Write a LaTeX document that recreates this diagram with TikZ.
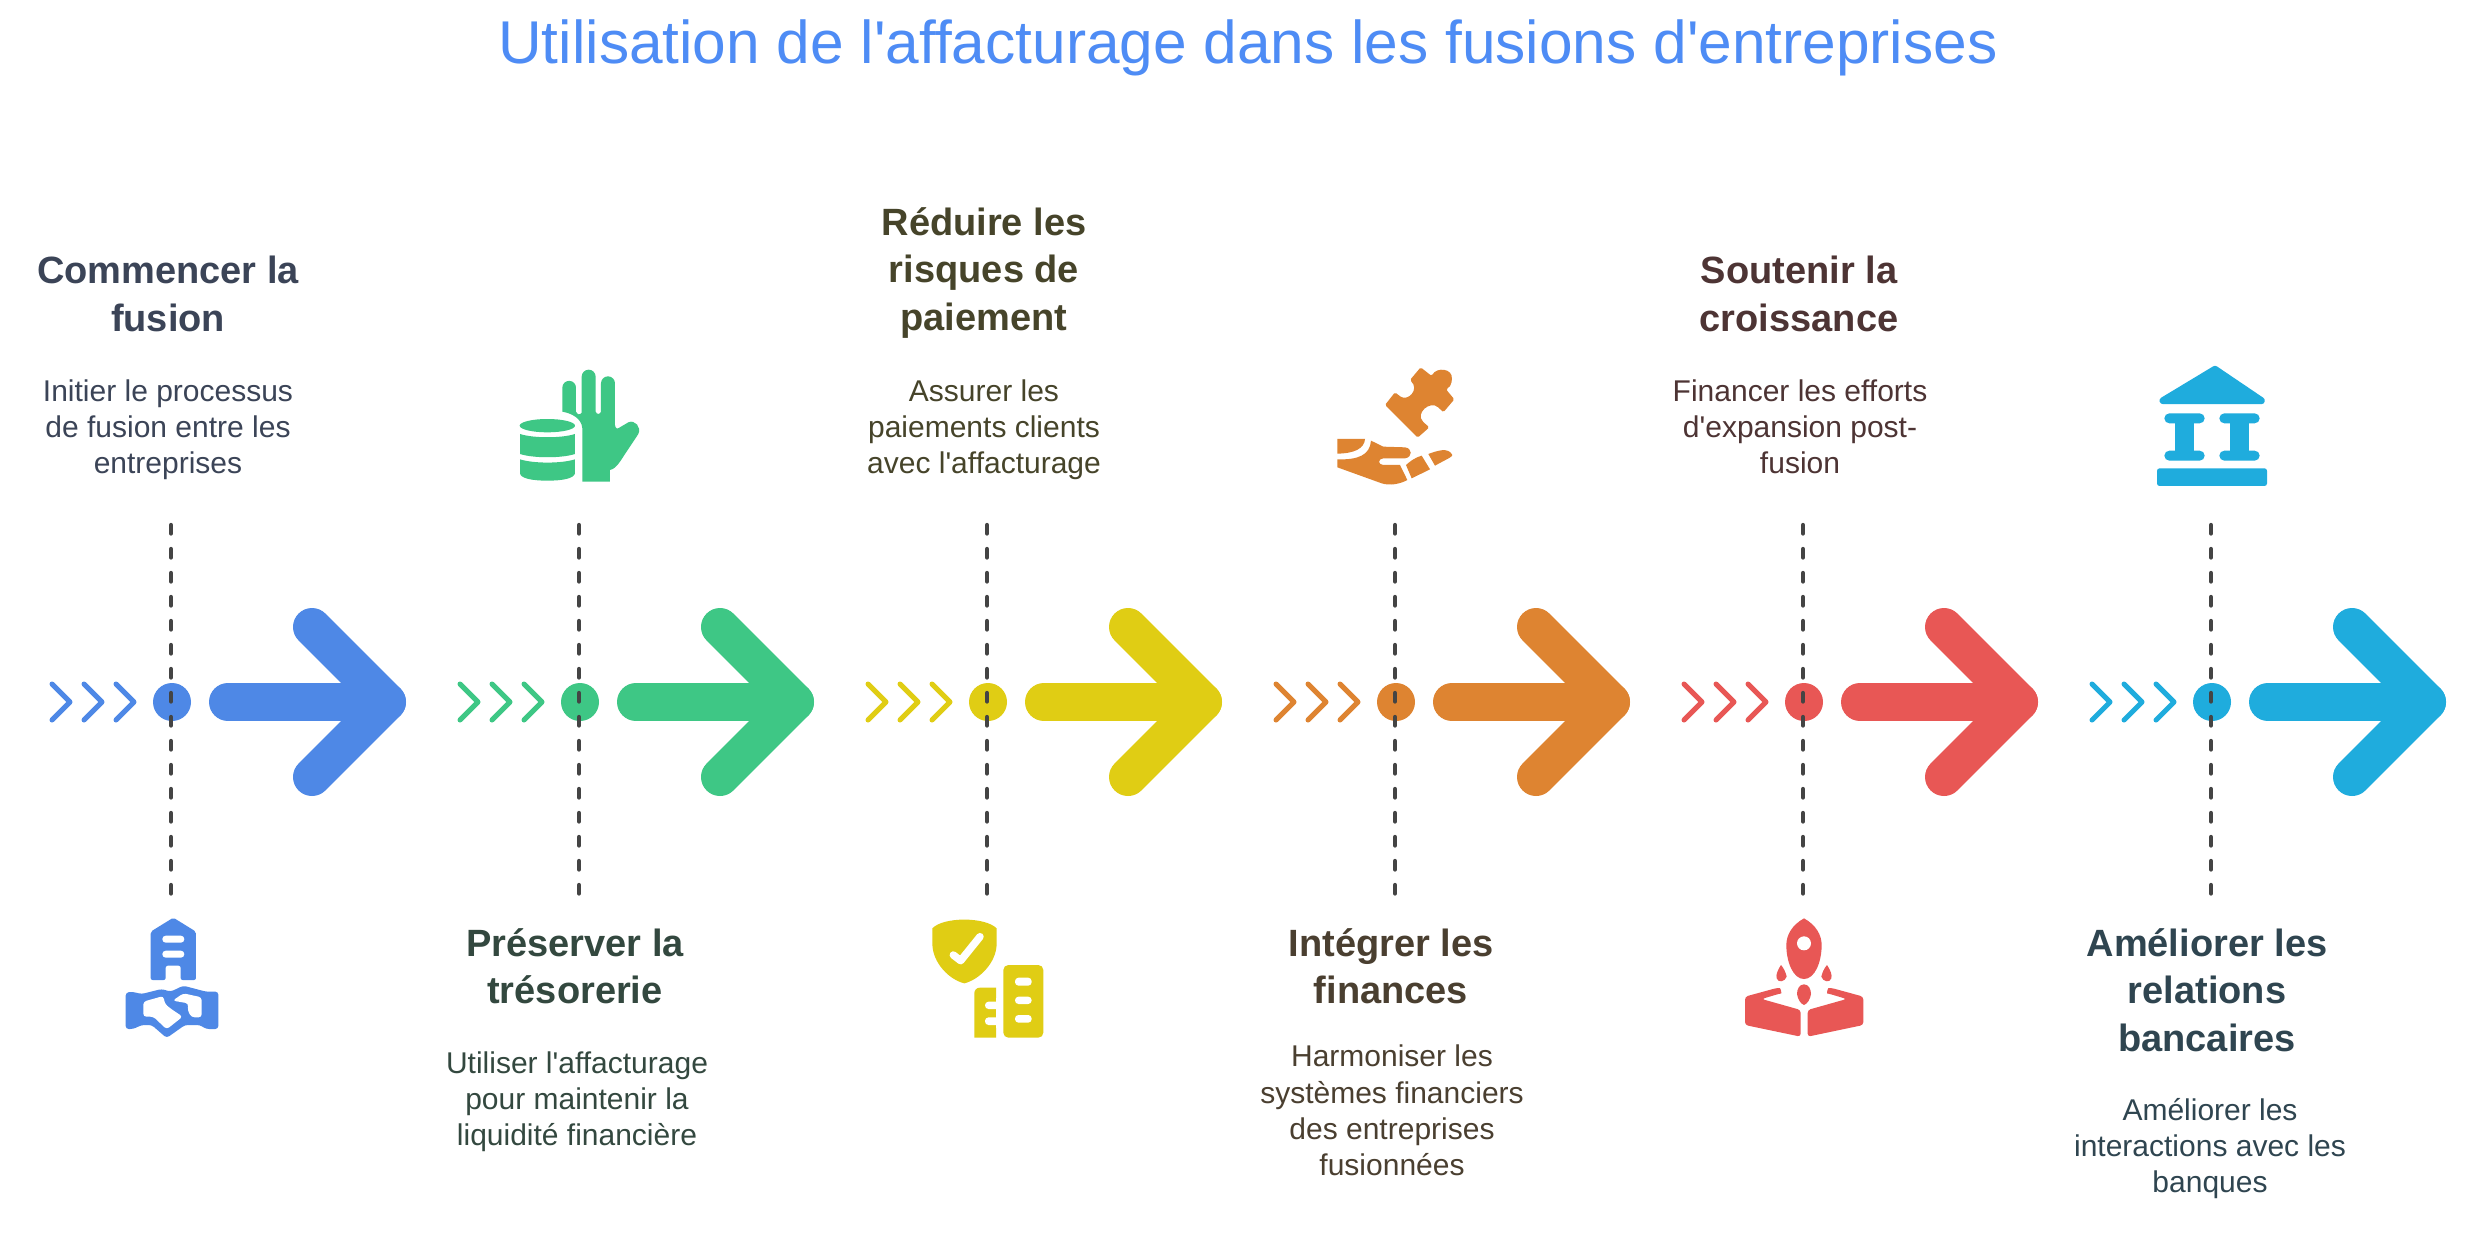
\documentclass[tikz,border=0pt]{standalone}
\usepackage{fontspec}
\newfontfamily\rsans{Liberation Sans}
\setmainfont{Liberation Sans}
\definecolor{cblue}{HTML}{4E88E6}
\definecolor{cgreen}{HTML}{3EC785}
\definecolor{cyellow}{HTML}{E0CD14}
\definecolor{corange}{HTML}{DE8431}
\definecolor{cred}{HTML}{E85755}
\definecolor{ccyan}{HTML}{1FACDD}
\definecolor{ctitle}{HTML}{4E8CF5}
\definecolor{cguide}{HTML}{444444}
\definecolor{tblue}{HTML}{3B4457}
\definecolor{tgreen}{HTML}{33483F}
\definecolor{tyellow}{HTML}{46442A}
\definecolor{torange}{HTML}{4A3F30}
\definecolor{tred}{HTML}{4D3434}
\definecolor{tcyan}{HTML}{2F4550}
\tikzset{
  headtxt/.style={align=center,inner sep=0pt,font=\rsans\fontsize{38}{47.5}\selectfont\bfseries,execute at begin node=\strut,execute at end node=\strut},
  bodytxt/.style={align=center,inner sep=0pt,font=\rsans\fontsize{30}{36.3}\selectfont,execute at begin node=\strut,execute at end node=\strut},
  titletxt/.style={inner sep=0pt,text=ctitle,font=\rsans\fontsize{60.4}{64}\selectfont},
  chevron/.style={line width=5pt,line cap=round,line join=round},
  bigarrow/.style={line width=38pt,line cap=round,line join=round},
  guide/.style={line width=4.3pt,color=cguide,line cap=round,dash pattern=on 8.5pt off 15.5pt},
  zoomed/.style={shift={#1},x=0.3333pt,y=-0.3333pt},
  hole/.style={fill=white,rounded corners=3pt},
}
\begin{document}
\begin{tikzpicture}[x=1pt,y=-1pt]
\useasboundingbox (0,0) rectangle (2476,1232);
\fill[white] (0,0) rectangle (2476,1232);
\node[titletxt] (title) at (1248,48) {Utilisation de l'affacturage dans les fusions d'entreprises};
% repeated timeline units
\foreach \i/\c in {0/cblue,1/cgreen,2/cyellow,3/corange,4/cred,5/ccyan}{
  \begin{scope}[shift={(\i*408,0)}]
    \foreach \k in {0,32,64}
      \draw[chevron,\c] (52+\k,684) -- (70+\k,702) -- (52+\k,720);
    \fill[\c] (172,702) circle (19);
    \draw[bigarrow,\c] (228,702) -- (387,702);
    \draw[bigarrow,\c] (312,627) -- (387,702) -- (312,777);
    \coordinate (gt\i) at (171,525);
    \coordinate (gb\i) at (171,897);
    \draw[guide] (gt\i) -- (gb\i);
  \end{scope}
}
% texts
\node[headtxt,text=tblue] (h1) at (168,301) {Commencer la\\fusion};
\node[bodytxt,text=tblue] (b1) at (168,432) {Initier le processus\\de fusion entre les\\entreprises};
\node[headtxt,text=tgreen] (h2) at (575,973) {Préserver la\\trésorerie};
\node[bodytxt,text=tgreen] (b2) at (577,1104) {Utiliser l'affacturage\\pour maintenir la\\liquidité financière};
\node[headtxt,text=tyellow] (h3) at (984,276) {Réduire les\\risques de\\paiement};
\node[bodytxt,text=tyellow] (b3) at (984,432) {Assurer les\\paiements clients\\avec l'affacturage};
\node[headtxt,text=torange] (h4) at (1391,973) {Intégrer les\\finances};
\node[bodytxt,text=torange] (b4) at (1392,1116) {Harmoniser les\\systèmes financiers\\des entreprises\\fusionnées};
\node[headtxt,text=tred] (h5) at (1799,301) {Soutenir la\\croissance};
\node[bodytxt,text=tred] (b5) at (1800,432) {Financer les efforts\\d'expansion post-\\fusion};
\node[headtxt,text=tcyan] (h6) at (2207,997) {Améliorer les\\relations\\bancaires};
\node[bodytxt,text=tcyan] (b6) at (2210,1151) {Améliorer les\\interactions avec les\\banques};
% icon 1
\begin{scope}[zoomed={(100,880)}]
  \fill[cblue,rounded corners=2pt] (220,113) -- (288,155) -- (288,300) -- (242,300) -- (242,257) -- (197,257) -- (197,300) -- (152,300) -- (152,155) -- cycle;
  \fill[white,rounded corners=3.4pt] (187,167) rectangle (253,188);
  \fill[white,rounded corners=3.4pt] (187,212) rectangle (253,233);
  \fill[cblue,rounded corners=3pt] (77,338) -- (95,335) -- (125,342) -- (185,327) -- (212,335) -- (250,317) -- (318,335) -- (355,335) -- (355,447) -- (318,447) -- (300,435) -- (255,435) -- (200,474) -- (155,435) -- (125,435) -- (100,447) -- (77,447) -- cycle;
  \fill[hole] (130,365) -- (190,348) -- (195,372) -- (215,388) -- (248,410) -- (200,448) -- (160,410) -- (130,410) -- cycle;
  \fill[hole] (218,362) -- (250,340) -- (305,352) -- (305,412) -- (275,412) -- (263,392) -- (265,370) -- cycle;
\end{scope}
% icon 2
\begin{scope}[zoomed={(500,350)}]
  \fill[cgreen] (187,185) -- (187,113) arc[start angle=180,end angle=360,radius=20.5] -- (228,185) .. controls (233,195) and (240,195) .. (245,188) -- (245,80) arc[start angle=180,end angle=360,radius=21] -- (287,185) .. controls (290,194) and (300,194) .. (303,185) -- (303,100) arc[start angle=180,end angle=360,radius=21] -- (345,225) .. controls (347,235) and (350,238) .. (358,233) -- (385,217) .. controls (405,208) and (425,232) .. (415,252) -- (360,335) .. controls (350,350) and (340,358) .. (330,360) -- (330,395) -- (247,395) -- (247,235) .. controls (245,205) and (215,190) .. (187,185) -- cycle;
  \fill[cgreen] (142,227) ellipse[x radius=83,y radius=20];
  \fill[cgreen] (60,252) .. controls (100,265) and (185,265) .. (225,252) -- (225,312) .. controls (185,325) and (100,325) .. (60,312) -- cycle;
  \fill[cgreen] (60,328) .. controls (100,341) and (185,341) .. (225,328) -- (225,370) .. controls (222,385) and (190,392) .. (142,392) .. controls (95,392) and (62,385) .. (60,370) -- cycle;
\end{scope}
% icon 3
\begin{scope}[zoomed={(910,900)}]
  \fill[cyellow] (67,85) .. controls (100,50) and (225,50) .. (260,85) -- (260,130) .. controls (260,190) and (205,240) .. (163,250) .. controls (120,240) and (67,190) .. (67,130) -- cycle;
  \draw[white,line width=7.5pt,line cap=round,line join=round] (130,165) -- (152,182) -- (210,110);
  \fill[cyellow,rounded corners=5pt] (280,413) -- (280,195) -- (400,195) -- (400,413) -- cycle;
  \fill[white,rounded corners=3.5pt] (315,233) rectangle (365,257);
  \fill[white,rounded corners=3.5pt] (315,290) rectangle (365,312);
  \fill[white,rounded corners=3.5pt] (315,345) rectangle (365,368);
  \fill[cyellow] (193,413) -- (193,280) .. controls (193,270) and (200,263) .. (210,263) -- (258,263) -- (258,413) -- cycle;
  \fill[white,rounded corners=3.5pt] (225,305) rectangle (275,327);
  \fill[white,rounded corners=3.5pt] (225,352) rectangle (275,375);
  \fill[white] (259,295) rectangle (279,385);
\end{scope}
% icon 4
\begin{scope}[zoomed={(1320,350)}]
  \fill[corange,rounded corners=1.5pt] (225,127) -- (238,137) .. controls (262,155) and (300,120) .. (270,90) -- (302,52) -- (335,78) .. controls (350,50) and (400,55) .. (395,92) .. controls (394,105) and (388,112) .. (378,118) -- (403,148) -- (370,187) -- (358,175) .. controls (330,150) and (285,190) .. (312,218) -- (328,232) -- (293,263) -- (195,165) -- cycle;
  \fill[corange] (52,267) -- (135,267) .. controls (133,295) and (105,310) .. (52,311) -- cycle;
  \fill[corange] (52,328) .. controls (115,330) and (150,315) .. (153,272) -- (190,290) -- (255,292) .. controls (278,295) and (278,322) .. (255,325) -- (190,325) .. controls (173,326) and (173,344) .. (190,345) -- (240,345) -- (262,390) .. controls (240,402) and (210,408) .. (185,400) -- (52,352) -- cycle;
  \fill[corange] (258,345) .. controls (270,335) and (280,325) .. (305,317) -- (330,358) -- (275,385) -- cycle;
  \fill[corange] (325,312) .. controls (350,303) and (385,290) .. (397,315) .. controls (395,322) and (390,322) .. (345,347) -- cycle;
\end{scope}
% icon 5
\begin{scope}[zoomed={(1730,900)}]
  \fill[cred] (222,55) .. controls (258,75) and (275,105) .. (275,135) .. controls (275,185) and (255,237) .. (222,237) .. controls (189,237) and (169,185) .. (169,135) .. controls (169,105) and (186,75) .. (222,55) -- cycle;
  \fill[white] (222,130) circle[radius=21];
  \fill[cred] (153,195) .. controls (140,215) and (138,225) .. (140,235) .. controls (145,250) and (165,245) .. (170,230) .. controls (168,220) and (162,205) .. (153,195) -- cycle;
  \fill[cred] (291,195) .. controls (304,215) and (306,225) .. (304,235) .. controls (299,250) and (279,245) .. (274,230) .. controls (276,220) and (282,205) .. (291,195) -- cycle;
  \fill[cred] (222,253) .. controls (208,253) and (201,268) .. (201,282) .. controls (203,297) and (212,312) .. (222,315) .. controls (232,312) and (241,297) .. (243,282) .. controls (243,268) and (236,253) .. (222,253) -- cycle;
  \foreach \sx/\ox in {1/0,-1/445}{
    \begin{scope}[xshift=\ox*0.3333pt,x=\sx*0.3333pt]
      \fill[cred,rounded corners=3pt] (45,290) -- (140,264) .. controls (152,264) and (155,280) .. (145,282) -- (95,297) -- (212,330) -- (212,410) -- (45,375) -- cycle;
    \end{scope}
  }
\end{scope}
% icon 6
\begin{scope}[zoomed={(2130,350)}]
  \filldraw[ccyan,line width=7pt,line join=round] (255,58) -- (394,152) -- (99,152) -- cycle;
  \foreach \d in {0,165}{
    \fill[ccyan,rounded corners=5pt] (103+\d,190) rectangle (224+\d,220);
    \fill[ccyan] (135+\d,205) rectangle (193+\d,318);
    \fill[ccyan,rounded corners=5pt] (103+\d,302) rectangle (224+\d,332);
  }
  \fill[ccyan,rounded corners=2.5pt] (81,355) rectangle (411,408);
\end{scope}
\end{tikzpicture}
\end{document}
